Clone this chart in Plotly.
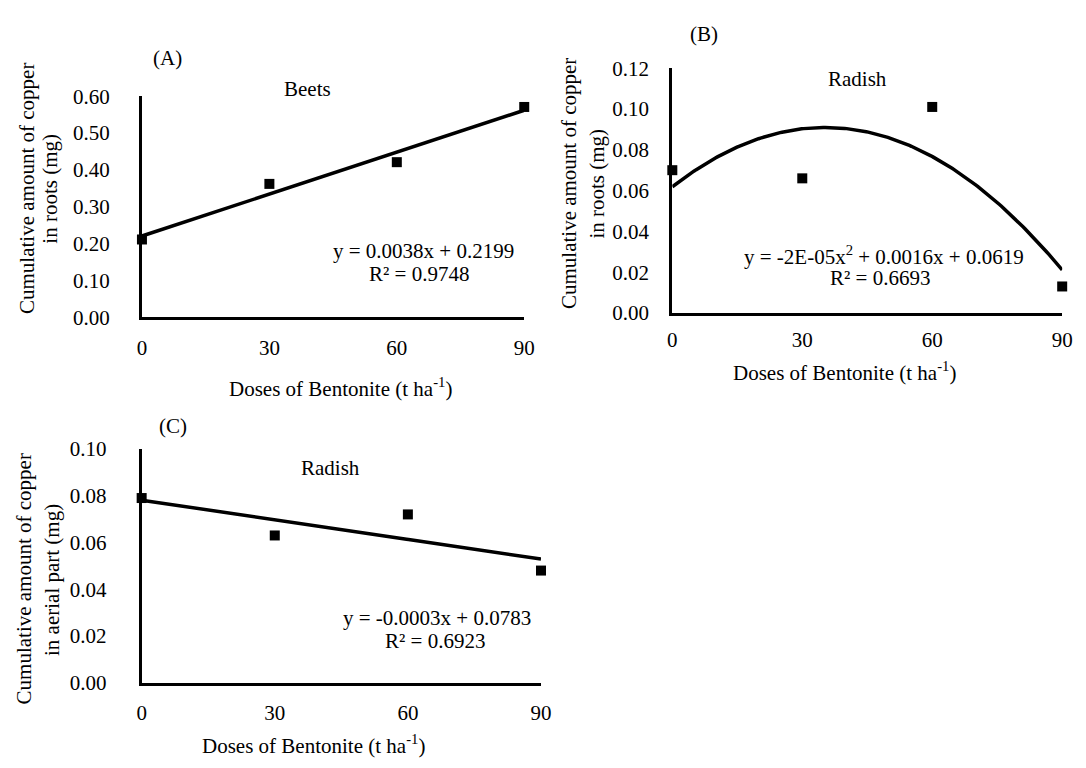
import numpy as np
import plotly.graph_objects as go

# ---------------- data ----------------
doses = [0, 30, 60, 90]
x_ticks = [0, 30, 60, 90]

beets_roots = [0.211, 0.362, 0.421, 0.571]          # (A)
radish_roots = [0.070, 0.066, 0.101, 0.013]         # (B)
radish_aerial = [0.079, 0.063, 0.072, 0.048]        # (C)

eq_A = ["y = 0.0038x + 0.2199", "R² = 0.9748"]
eq_B = ["y = -2E-05x<sup>2</sup> + 0.0016x + 0.0619", "R² = 0.6693"]
eq_C = ["y = -0.0003x + 0.0783", "R² = 0.6923"]

W, H = 1086, 768
FONT = "Liberation Serif, Times New Roman, serif"
FS = 21


def px(x):
    return x / W


def py(y):
    return 1 - y / H


fig = go.Figure()

panels = [
    dict(y=beets_roots, deg=1, xa="x", ya="y", xd=(139, 527), yd=(315, 87),
         yr=[0, 0.6], dt=0.1, ystand=25, xstand=10),
    dict(y=radish_roots, deg=2, xa="x2", ya="y2", xd=(677.3, 1073), yd=(310.7, 58),
         yr=[0, 0.12], dt=0.02, ystand=16, xstand=6),
    dict(y=radish_aerial, deg=1, xa="x3", ya="y3", xd=(138.7, 544), yd=(692.5, 451),
         yr=[0, 0.10], dt=0.02, ystand=28, xstand=9),
]

layout_axes = {}
for i, p in enumerate(panels):
    coef = np.polyfit(doses, p["y"], p["deg"])
    xs = np.linspace(0, 90, 200)
    fig.add_trace(go.Scatter(x=xs, y=np.polyval(coef, xs), mode="lines",
                             line=dict(color="black", width=3.5),
                             xaxis=p["xa"], yaxis=p["ya"], showlegend=False,
                             hoverinfo="skip"))
    fig.add_trace(go.Scatter(x=doses, y=p["y"], mode="markers",
                             marker=dict(symbol="square", size=10, color="black"),
                             xaxis=p["xa"], yaxis=p["ya"], showlegend=False,
                             cliponaxis=False))
    suffix = "" if i == 0 else str(i + 1)
    layout_axes["xaxis" + suffix] = dict(
        domain=[px(p["xd"][0]), px(p["xd"][1])], range=[0, 90],
        tickvals=x_ticks, ticks="", showgrid=False, zeroline=False,
        showline=True, linecolor="black", linewidth=3,
        anchor=p["ya"], ticklabelstandoff=p["xstand"],
        tickfont=dict(family=FONT, size=FS, color="black"))
    layout_axes["yaxis" + suffix] = dict(
        domain=[py(p["yd"][0]), py(p["yd"][1])], range=p["yr"],
        tick0=0, dtick=p["dt"], tickformat=".2f", ticks="", showgrid=False,
        zeroline=False, showline=True, linecolor="black", linewidth=3,
        anchor=p["xa"], ticklabelstandoff=p["ystand"],
        tickfont=dict(family=FONT, size=FS, color="black"))

fig.update_layout(**layout_axes)

xt = "Doses of Bentonite (t ha<sup>-1</sup>)"
texts = [
    ("(A)", 165, 47, 0), ("Beets", 307.5, 79, 0),
    (eq_A[0], 425, 247, 0), (eq_A[1], 420, 270, 0),
    (xt, 341, 388, 0),
    ("Cumulative amount of copper", 23, 182, -90), ("in roots (mg)", 46, 182, -90),

    ("(B)", 709, 23, 0), ("Radish", 865.6, 69, 0),
    (eq_B[0], 892, 251, 0), (eq_B[1], 888, 275, 0),
    (xt, 851.6, 371, 0),
    ("Cumulative amount of copper", 573, 177, -90), ("in roots (mg)", 601, 177, -90),

    ("(C)", 170.5, 427, 0), ("Radish", 330, 471, 0),
    (eq_C[0], 438, 626, 0), (eq_C[1], 436.5, 649, 0),
    (xt, 313, 756, 0),
    ("Cumulative amount of copper", 19, 585, -90), ("in aerial part (mg)", 47, 586, -90),
]
annotations = []
for t, x, y, a in texts:
    annotations.append(dict(text=t, x=px(x), y=py(y), xref="paper", yref="paper",
                            xanchor="center", yanchor="middle", showarrow=False,
                            textangle=a, font=dict(family=FONT, size=FS, color="black")))

fig.update_layout(
    width=W, height=H,
    margin=dict(l=0, r=0, t=0, b=0),
    paper_bgcolor="white", plot_bgcolor="white",
    annotations=annotations,
    font=dict(family=FONT, size=FS, color="black"),
    hovermode=False,
)

fig.write_html(
    "out.html",
    config={"displayModeBar": False, "staticPlot": True},
    post_script="document.body.style.margin='0';document.body.style.overflow='hidden';",
)
